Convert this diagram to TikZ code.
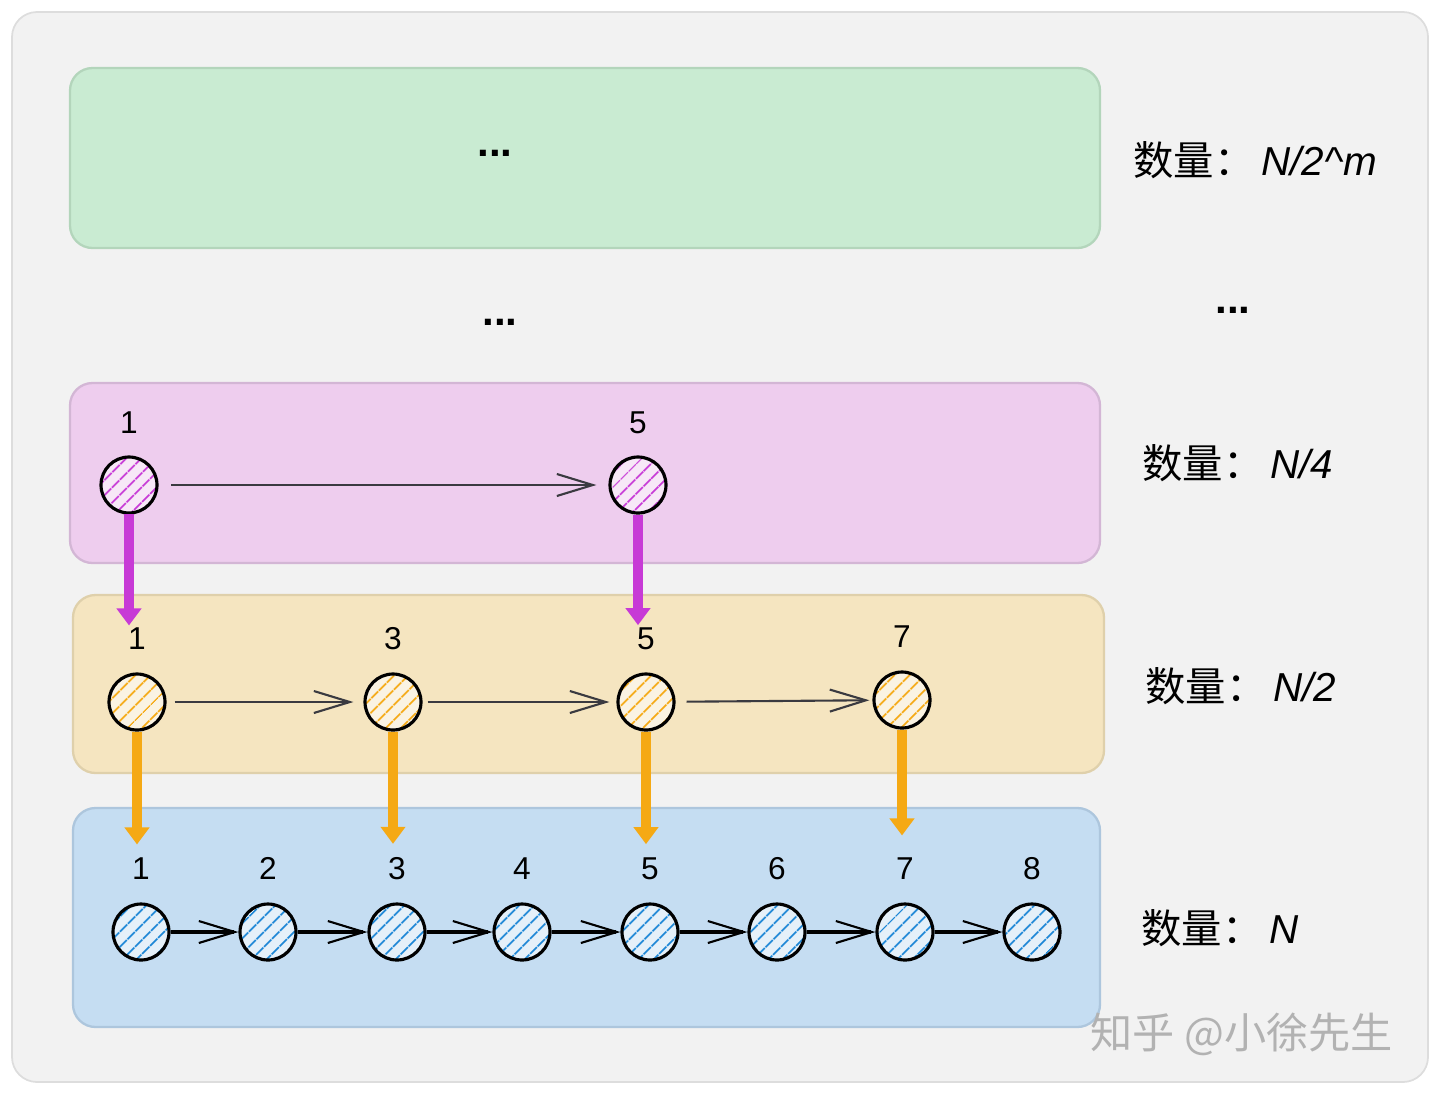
\documentclass[tikz,border=0pt]{standalone}
\usepackage{fontspec}
\setmainfont{Liberation Sans}
\newfontfamily\cjk{Noto Sans CJK SC}
\usetikzlibrary{arrows.meta, positioning, patterns.meta}
\usepackage{xcolor}
\definecolor{paperBg}{HTML}{F2F2F2}
\definecolor{paperEdge}{HTML}{DDDDDD}
\definecolor{greenFill}{HTML}{C9EBD2}
\definecolor{greenEdge}{HTML}{B3D5BB}
\definecolor{pinkFill}{HTML}{EECDEE}
\definecolor{pinkEdge}{HTML}{D3B6D5}
\definecolor{pinkHatch}{HTML}{C73AD6}
\definecolor{yellowFill}{HTML}{F5E5C0}
\definecolor{yellowEdge}{HTML}{DFD0AB}
\definecolor{yellowHatch}{HTML}{F5A914}
\definecolor{blueFill}{HTML}{C5DDF2}
\definecolor{blueEdge}{HTML}{ADC6DD}
\definecolor{blueHatch}{HTML}{1C86D6}
\definecolor{hopGray}{HTML}{3A3A40}
\tikzset{
    levelbox/.style={draw=#1Edge, fill=#1Fill, line width=1.3pt, rounded corners=0.45cm},
    dot/.style={circle, draw=black, line width=1.8pt, minimum size=1.12cm, inner sep=0pt,
        preaction={fill=#1Fill!45!white},
        pattern={Lines[angle=45, distance=6.5pt, line width=1.3pt]}, pattern color=#1Hatch},
    num/.style={font=\fontsize{18}{20}\selectfont, inner sep=1pt},
    count/.style={font=\fontsize{23}{26}\selectfont, anchor=west, inner sep=0pt},
    gap/.style={font=\fontsize{24}{26}\selectfont\bfseries},
    hop/.style={draw=hopGray, line width=1.2pt,
        -{Straight Barb[length=0.72cm, width=0.44cm, line width=1.2pt]}},
    drop/.style={draw=#1, line width=0.19cm, -{Triangle[length=0.34cm, width=0.48cm]}}
}

\begin{document}
\begin{tikzpicture}[x=0.02cm, y=-0.02cm]
    \useasboundingbox (0,0) rectangle (1440,1093);

    % Draw the sheet behind everything
    \draw[fill=paperBg, draw=paperEdge, line width=1pt, rounded corners=0.5cm] (12,12) rectangle (1428,1082);

    % Draw the four levels
    \draw[levelbox=green] (70,68) rectangle (1100,248);
    \draw[levelbox=pink] (70,383) rectangle (1100,563);
    \draw[levelbox=yellow] (73,595) rectangle (1104,773);
    \draw[levelbox=blue] (73,808) rectangle (1100,1027);

    % Gaps between levels
    \node[gap] (topdots) at (495,153) {...};
    \node[gap] (middots) at (500,322) {...};
    \node[gap] (countdots) at (1233,310) {...};

    % Top level with 1 and 5
    \node[dot=pink] (p1) at (129,485) {};
    \node[dot=pink] (p5) at (638,485) {};
    \node[num, above=0.4cm of p1] (pl1) {1};
    \node[num, above=0.4cm of p5] (pl5) {5};
    \draw[hop, shorten <=0.26cm, shorten >=0.24cm] (p1) -- (p5);

    % Middle level with 1, 3, 5, 7
    \node[dot=yellow] (y1) at (137,702) {};
    \node[dot=yellow] (y3) at (393,702) {};
    \node[dot=yellow] (y5) at (646,702) {};
    \node[dot=yellow] (y7) at (902,700) {};
    \node[num, above=0.42cm of y1] (yl1) {1};
    \node[num, above=0.42cm of y3] (yl3) {3};
    \node[num, above=0.42cm of y5] (yl5) {5};
    \node[num, above=0.42cm of y7] (yl7) {7};
    \draw[hop, shorten <=0.16cm, shorten >=0.2cm] (y1) -- (y3);
    \draw[hop, shorten <=0.1cm, shorten >=0.14cm] (y3) -- (y5);
    \draw[hop, shorten <=0.22cm, shorten >=0.06cm] (y5) -- (y7);

    % Bottom level with all of them
    \foreach \n/\x in {1/141, 2/268, 3/397, 4/522, 5/650, 6/777, 7/905, 8/1032} {
        \node[dot=blue] (b\n) at (\x,932) {};
        \node[num, above=0.42cm of b\n] (bl\n) {\n};
    }
    \foreach \a/\b in {1/2, 2/3, 3/4, 4/5, 5/6, 6/7, 7/8}
        \draw[hop, draw=black, line width=1.8pt] (b\a) -- (b\b);

    % Links down to the next level
    \draw[drop=pinkHatch] (p1.south) -- (p1.south |- yl1.north);
    \draw[drop=pinkHatch] (p5.south) -- (p5.south |- yl5.north);
    \draw[drop=yellowHatch, shorten >=0.22cm] (y1.south) -- (y1.south |- bl1.north);
    \draw[drop=yellowHatch, shorten >=0.22cm] (y3.south) -- (y3.south |- bl3.north);
    \draw[drop=yellowHatch, shorten >=0.22cm] (y5.south) -- (y5.south |- bl5.north);
    \draw[drop=yellowHatch, shorten >=0.4cm] (y7.south) -- (y7.south |- bl7.north);

    % Counts on the right
    \node[count] (cm) at (1133,160) {{\cjk 数量：}\,\itshape N/2\^{}m};
    \node[count] (c4) at (1142,463) {{\cjk 数量：}\,\itshape N/4};
    \node[count] (c2) at (1145,686) {{\cjk 数量：}\,\itshape N/2};
    \node[count] (cn) at (1141,928) {{\cjk 数量：}\,\itshape N};

    % Watermark
    \node[count, text=black!30, font=\cjk\fontsize{24}{26}\selectfont] (mark) at (1090,1034) {知乎 @小徐先生};
\end{tikzpicture}
\end{document}
